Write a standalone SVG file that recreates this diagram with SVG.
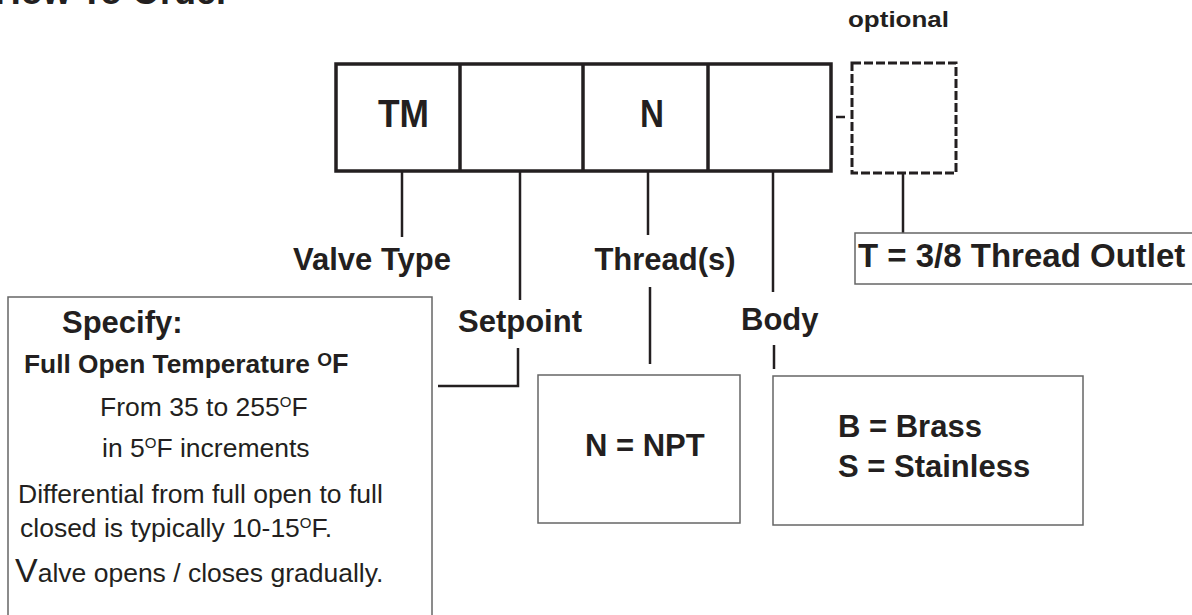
<svg xmlns="http://www.w3.org/2000/svg" width="1192" height="615" viewBox="0 0 1192 615">
<style>
text{font-family:"Liberation Sans",Arial,Helvetica,sans-serif;fill:#231f20}
.b{font-weight:bold}
.lbl{font-weight:bold;font-size:31px}
.body{font-size:26.5px}
.frame{fill:none;stroke:#231f20;stroke-width:3.5}
.dash{fill:none;stroke:#231f20;stroke-width:3;stroke-dasharray:9 3}
.box{fill:#fff;stroke:#666;stroke-width:1.5}
.conn{fill:none;stroke:#231f20;stroke-width:2.5}
</style>
<rect width="1192" height="615" fill="#fff"/>
<text class="b" x="230" y="4" font-size="36" text-anchor="end">How To Order</text>
<text class="b" x="848" y="27" font-size="22" textLength="101" lengthAdjust="spacingAndGlyphs">optional</text>

<g id="code-boxes">
<rect class="frame" x="336" y="64" width="495" height="107"/>
<line class="frame" x1="460" y1="64" x2="460" y2="171"/>
<line class="frame" x1="583" y1="64" x2="583" y2="171"/>
<line class="frame" x1="708" y1="64" x2="708" y2="171"/>
<text class="b" x="378" y="127" font-size="38" textLength="51" lengthAdjust="spacingAndGlyphs">TM</text>
<text class="b" x="640" y="127" font-size="38" textLength="24" lengthAdjust="spacingAndGlyphs">N</text>
</g>
<g id="optional-box">
<rect class="dash" x="852" y="63" width="104" height="110"/>
</g>

<g id="connectors">
<line class="conn" x1="836" y1="117" x2="845" y2="117" stroke-width="2"/>
<line class="conn" x1="402" y1="171" x2="402" y2="237"/>
<line class="conn" x1="520" y1="171" x2="520" y2="300"/>
<path class="conn" d="M518 348 V386 H438"/>
<line class="conn" x1="648" y1="171" x2="648" y2="235"/>
<line class="conn" x1="650" y1="287" x2="650" y2="364"/>
<line class="conn" x1="773" y1="171" x2="773" y2="292"/>
<line class="conn" x1="774" y1="345" x2="774" y2="369"/>
<line class="conn" x1="903" y1="173" x2="903" y2="233"/>
</g>

<g id="valve-type"><text class="lbl" x="293" y="270">Valve Type</text></g>
<g id="threads-label"><text class="lbl" x="665" y="270" text-anchor="middle">Thread(s)</text></g>
<g id="setpoint-label"><text class="lbl" x="458" y="332">Setpoint</text></g>
<g id="body-label"><text class="lbl" x="741" y="330">Body</text></g>

<g id="outlet-box">
<rect class="box" x="855" y="233" width="345" height="51"/>
<text class="b" x="858" y="267" font-size="33">T = 3/8 Thread Outlet</text>
</g>

<g id="setpoint-box">
<rect class="box" x="8" y="297" width="424" height="340"/>
<text class="b" x="62" y="333" font-size="31">Specify:</text>
<text class="b" x="24" y="373" font-size="26.3">Full Open Temperature <tspan font-size="19" dy="-7">O</tspan><tspan dy="7" font-size="27">F</tspan></text>
<text class="body" x="100" y="416">From 35 to 255<tspan font-size="15" dy="-9">O</tspan><tspan dy="9">F</tspan></text>
<text class="body" x="102" y="457">in 5<tspan font-size="15" dy="-9">O</tspan><tspan dy="9">F increments</tspan></text>
<text class="body" x="18" y="503">Differential from full open to full</text>
<text class="body" x="20" y="537">closed is typically 10-15<tspan font-size="15" dy="-9">O</tspan><tspan dy="9">F.</tspan></text>
<text class="body" x="15" y="582"><tspan font-size="34">V</tspan>alve opens / closes gradually.</text>
</g>

<g id="thread-box">
<rect class="box" x="538" y="375" width="202" height="148"/>
<text class="b" x="585" y="456" font-size="31">N = NPT</text>
</g>

<g id="body-box">
<rect class="box" x="773" y="376" width="310" height="149"/>
<text class="b" x="838" y="437" font-size="31">B = Brass</text>
<text class="b" x="838" y="477" font-size="31">S = Stainless</text>
</g>
</svg>
